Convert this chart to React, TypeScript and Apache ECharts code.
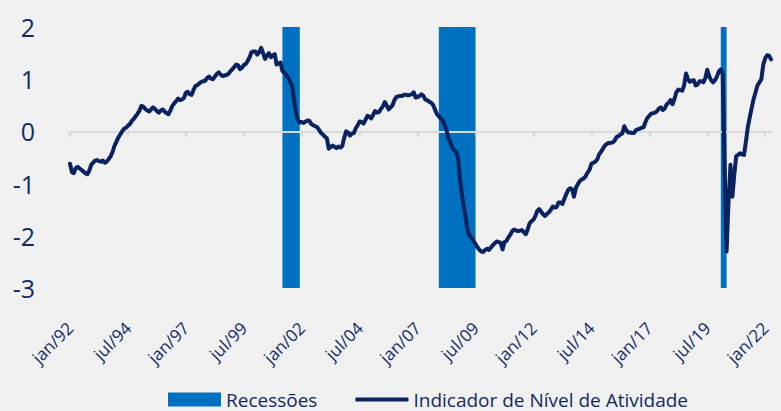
import React, { useEffect, useRef } from "react";
import * as echarts from "echarts";

const MONTHS = ["jan", "fev", "mar", "abr", "mai", "jun", "jul", "ago", "set", "out", "nov", "dez"];
const START_YEAR = 1992;

const y1992 = [-0.62, -0.78, -0.80, -0.70, -0.68, -0.71, -0.74, -0.77, -0.80, -0.82, -0.75, -0.64];
const y1993 = [-0.60, -0.56, -0.55, -0.57, -0.58, -0.56, -0.60, -0.58, -0.53, -0.48, -0.40, -0.28];
const y1994 = [-0.20, -0.12, -0.06, 0.00, 0.05, 0.07, 0.11, 0.14, 0.20, 0.24, 0.29, 0.34];
const y1995 = [0.40, 0.49, 0.47, 0.43, 0.40, 0.38, 0.42, 0.46, 0.43, 0.39, 0.36, 0.40];
const y1996 = [0.42, 0.38, 0.35, 0.33, 0.40, 0.49, 0.54, 0.58, 0.63, 0.60, 0.61, 0.64];
const y1997 = [0.74, 0.76, 0.71, 0.70, 0.80, 0.87, 0.89, 0.92, 0.95, 0.96, 0.97, 1.02];
const y1998 = [1.05, 1.01, 1.00, 1.05, 1.10, 1.13, 1.09, 1.06, 1.07, 1.08, 1.10, 1.15];
const y1999 = [1.19, 1.23, 1.28, 1.27, 1.19, 1.22, 1.27, 1.29, 1.35, 1.42, 1.52, 1.53];
const y2000 = [1.53, 1.47, 1.52, 1.60, 1.50, 1.39, 1.45, 1.50, 1.42, 1.46, 1.48, 1.28];
const y2001 = [1.30, 1.32, 1.16, 1.12, 1.08, 1.03, 0.95, 0.88, 0.60, 0.36, 0.22, 0.17];
const y2002 = [0.18, 0.16, 0.19, 0.21, 0.20, 0.14, 0.12, 0.10, 0.08, 0.03, -0.03, -0.06];
const y2003 = [-0.10, -0.13, -0.33, -0.30, -0.27, -0.30, -0.32, -0.29, -0.31, -0.28, -0.12, 0.00];
const y2004 = [-0.02, -0.08, -0.04, -0.03, 0.06, 0.12, 0.19, 0.18, 0.15, 0.22, 0.30, 0.28];
const y2005 = [0.25, 0.32, 0.39, 0.36, 0.37, 0.43, 0.48, 0.56, 0.50, 0.42, 0.46, 0.50];
const y2006 = [0.60, 0.66, 0.67, 0.68, 0.68, 0.70, 0.70, 0.69, 0.70, 0.71, 0.75, 0.65];
const y2007 = [0.66, 0.68, 0.71, 0.68, 0.61, 0.60, 0.57, 0.55, 0.51, 0.42, 0.33, 0.29];
const y2008 = [0.24, 0.22, 0.12, 0.02, -0.14, -0.20, -0.32, -0.36, -0.40, -0.52, -0.93, -1.22];
const y2009 = [-1.46, -1.68, -1.92, -2.00, -2.04, -2.10, -2.16, -2.22, -2.27, -2.30, -2.31, -2.27];
const y2010 = [-2.25, -2.27, -2.22, -2.18, -2.14, -2.11, -2.12, -2.13, -2.26, -2.12, -2.10, -2.03];
const y2011 = [-1.98, -1.91, -1.88, -1.90, -1.91, -1.90, -1.89, -1.93, -1.97, -1.88, -1.76, -1.72];
const y2012 = [-1.69, -1.62, -1.52, -1.49, -1.54, -1.59, -1.62, -1.58, -1.55, -1.50, -1.44, -1.46];
const y2013 = [-1.45, -1.36, -1.36, -1.39, -1.29, -1.20, -1.12, -1.09, -1.11, -1.25, -1.08, -1.01];
const y2014 = [-0.95, -0.92, -0.90, -0.86, -0.79, -0.74, -0.62, -0.60, -0.58, -0.54, -0.44, -0.39];
const y2015 = [-0.33, -0.27, -0.24, -0.22, -0.22, -0.21, -0.18, -0.11, -0.09, -0.06, -0.04, 0.10];
const y2016 = [0.03, -0.02, -0.02, -0.03, -0.03, 0.02, 0.04, 0.05, 0.07, 0.08, 0.18, 0.26];
const y2017 = [0.30, 0.34, 0.35, 0.36, 0.39, 0.44, 0.46, 0.41, 0.44, 0.52, 0.55, 0.60];
const y2018 = [0.52, 0.62, 0.75, 0.80, 0.79, 0.78, 0.88, 1.11, 1.00, 0.95, 0.97, 0.98];
const y2019 = [0.88, 0.90, 0.96, 0.96, 0.94, 1.02, 1.18, 1.06, 0.98, 0.94, 0.98, 1.05];
const y2020 = [1.15, 1.19, 1.10, -0.70, -2.30, -1.35, -0.64, -1.25, -0.82, -0.47, -0.45, -0.42];
const y2021 = [-0.44, -0.45, -0.20, 0.08, 0.27, 0.45, 0.62, 0.75, 0.88, 0.94, 1.00, 1.28];
const y2022 = [1.40, 1.46, 1.45, 1.38];

const indicador = [
  ...y1992, ...y1993, ...y1994, ...y1995, ...y1996, ...y1997, ...y1998, ...y1999,
  ...y2000, ...y2001, ...y2002, ...y2003, ...y2004, ...y2005, ...y2006, ...y2007,
  ...y2008, ...y2009, ...y2010, ...y2011, ...y2012, ...y2013, ...y2014, ...y2015,
  ...y2016, ...y2017, ...y2018, ...y2019, ...y2020, ...y2021, ...y2022,
];

const categories = indicador.map((_, i) => {
  const yr = (START_YEAR + Math.floor(i / 12)) % 100;
  return `${MONTHS[i % 12]}/${String(yr).padStart(2, "0")}`;
});

const recessionStart = ["mar/01", "dez/07", "fev/20"];
const recessionEnd = ["dez/01", "jul/09", "mai/20"];

const Y_MIN = -3;
const Y_MAX = 2;
const Y_INTERVAL = 1;
const LABEL_INTERVAL = 29;

const NAVY = "#0f2a66";
const LINE = "#0a2260";
const BLUE = "#0070c0";
const GRID_LINE = "#d9d9d9";
const FONT = "Open Sans";

export default function App() {
  const ref = useRef<HTMLDivElement>(null);
  useEffect(() => {
    if (!ref.current) return;
    const chart = echarts.init(ref.current, undefined, { renderer: "svg" });
    chart.setOption({
      animation: false,
      backgroundColor: "#f0f0f0",
      textStyle: { fontFamily: FONT },
      grid: { left: 70, right: 10, top: 27, bottom: 123 },
      legend: {
        left: 163,
        top: 385,
        itemWidth: 53,
        itemHeight: 14,
        itemGap: 38,
        textStyle: { fontSize: 19, color: NAVY, fontFamily: FONT },
        data: [
          { name: "Recessões", icon: "rect" },
          { name: "Indicador de Nível de Atividade", icon: "path://M0 0 H53 V4 H0 Z" },
        ],
      },
      xAxis: [
        {
          type: "category",
          data: categories,
          boundaryGap: false,
          axisLine: { show: false, onZero: false },
          axisTick: { show: false },
          splitLine: { show: false },
          axisLabel: {
            interval: LABEL_INTERVAL,
            rotate: 45,
            margin: 37,
            fontSize: 17,
            color: NAVY,
            fontFamily: FONT,
          },
        },
        {
          type: "category",
          data: categories,
          boundaryGap: false,
          position: "bottom",
          z: 1.5,
          axisLine: { show: true, onZero: true, lineStyle: { color: GRID_LINE, width: 2 } },
          axisTick: { show: true, interval: LABEL_INTERVAL, length: 5, lineStyle: { color: GRID_LINE, width: 2 } },
          axisLabel: { show: false },
          splitLine: { show: false },
        },
      ],
      yAxis: {
        type: "value",
        min: Y_MIN,
        max: Y_MAX,
        interval: Y_INTERVAL,
        axisLine: { show: false },
        axisTick: { show: false },
        splitLine: { show: false },
        axisLabel: { fontSize: 25, color: NAVY, margin: 35, fontFamily: FONT },
      },
      series: [
        {
          name: "Recessões",
          type: "bar",
          data: [],
          itemStyle: { color: BLUE },
        },
        {
          name: "Indicador de Nível de Atividade",
          type: "line",
          data: indicador,
          symbol: "none",
          showSymbol: false,
          z: 3,
          lineStyle: { color: LINE, width: 4, join: "round", cap: "round" },
          itemStyle: { color: LINE },
          markArea: {
            silent: true,
            z: 1,
            itemStyle: { color: BLUE },
            data: recessionStart.map((s, i) => [
              { xAxis: categories.indexOf(s), yAxis: Y_MAX },
              { xAxis: categories.indexOf(recessionEnd[i]), yAxis: Y_MIN },
            ]),
          },
        },
      ],
    });
    return () => chart.dispose();
  }, []);
  return (
    <div
      ref={ref}
      style={{ position: "fixed", left: 0, top: 0, width: 781, height: 411 }}
    />
  );
}
